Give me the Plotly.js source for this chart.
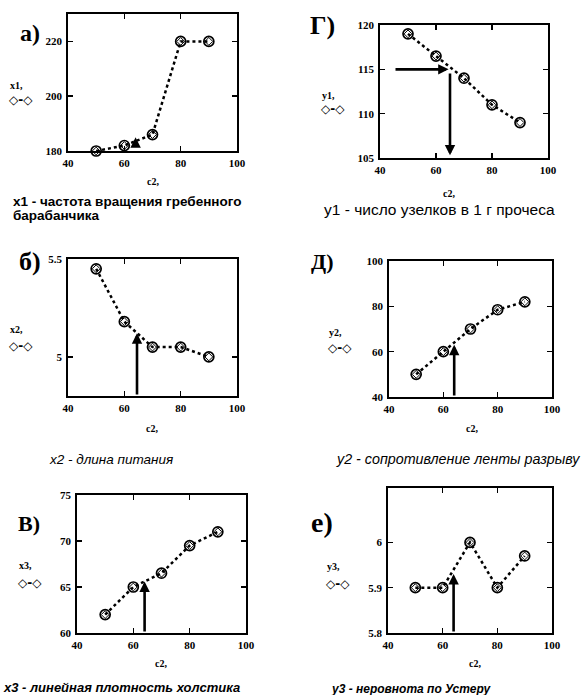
<!DOCTYPE html>
<html><head><meta charset="utf-8">
<script src="https://cdn.plot.ly/plotly-3.0.1.min.js"></script>
<style>html,body{margin:0;padding:0;background:#fff}#g{width:584px;height:695px}</style>
</head><body><div id="g"></div>
<script>
// ---- data ----
const c2 = [50, 60, 70, 80, 90];
const x1 = [180, 182, 186, 220, 220];
const x2 = [5.45, 5.18, 5.05, 5.05, 5.0];
const x3 = [62, 65, 66.5, 69.5, 71];
const y1 = [119, 116.5, 114, 111, 109];
const y2 = [50, 60, 70, 78.5, 82];
const y3 = [5.9, 5.9, 6.0, 5.9, 5.97];
const c2opt = 64.5;
// arrow tips (value of each response at c2opt)
const x1opt = 185, x2opt = 5.12, x3opt = 65.6;
const y1opt = 115, y2opt = 63, y3opt = 5.93;

const panelLetters = ['а)', 'б)', 'В)', 'Г)', 'Д)', 'е)'];
const yNames = ['x1,', 'x2,', 'x3,', 'y1,', 'y2,', 'y3,'];
const captions = [
  'x1 - частота вращения гребенного',
  'барабанчика',
  'x2 - длина питания',
  'x3 - линейная плотность холстика',
  'y1 - число узелков в 1 г прочеса',
  'y2 - сопротивление ленты разрыву',
  'y3 - неровнота по Устеру'
];

const W = 584, H = 695;
const px = v => v / W, py = v => 1 - v / H;

// panel frames in pixels: [left, right, top, bottom]
const frames = [
  [68, 237, 14, 151],      // а
  [68, 237, 259, 396],     // б
  [77, 246, 495, 633],     // в
  [380, 548, 25, 158],     // г
  [389, 552, 261, 397],    // д
  [388, 552, 488, 633]     // е
];
const ys = [x1, x2, x3, y1, y2, y3];
const yranges = [[180, 230], [4.8, 5.5], [60, 75], [105, 120], [40, 100], [5.8, 6.12]];
const ytv = [[180, 200, 220], [5, 5.5], [60, 65, 70, 75], [105, 110, 115, 120], [40, 60, 80, 100], [5.8, 5.9, 6]];
const ytt = [['180','200','220'], ['5','5.5'], ['60','65','70','75'], ['105','110','115','120'], ['40','60','80','100'], ['5.8','5.9','6']];

const tickFont = {family: 'Liberation Serif', size: 11, color: '#000', weight: 'bold'};
const traces = [];
const layout = {
  width: W, height: H, margin: {l: 0, r: 0, t: 0, b: 0},
  paper_bgcolor: '#fff', plot_bgcolor: '#fff', showlegend: false,
  annotations: [], shapes: []
};

for (let i = 0; i < 6; i++) {
  const f = frames[i];
  const xa = i === 0 ? 'xaxis' : 'xaxis' + (i + 1);
  const ya = i === 0 ? 'yaxis' : 'yaxis' + (i + 1);
  const xr = i === 0 ? 'x' : 'x' + (i + 1);
  const yr = i === 0 ? 'y' : 'y' + (i + 1);
  layout[xa] = {
    domain: [px(f[0]), px(f[1])], anchor: yr, range: [40, 100],
    tickvals: [40, 60, 80, 100], ticktext: ['40','60','80','100'],
    showgrid: false, zeroline: false, showline: true, mirror: 'ticks',
    linecolor: '#000', linewidth: 1.8, ticks: 'inside', ticklen: 5, tickwidth: 1.5,
    tickcolor: '#000', tickfont: tickFont, ticklabelstandoff: 1
  };
  layout[ya] = {
    domain: [py(f[3]), py(f[2])], anchor: xr, range: yranges[i],
    tickvals: ytv[i], ticktext: ytt[i],
    showgrid: false, zeroline: false, showline: true, mirror: 'ticks',
    linecolor: '#000', linewidth: 1.8, ticks: 'inside', ticklen: 5, tickwidth: 1.5,
    tickcolor: '#000', tickfont: tickFont, ticklabelstandoff: 2
  };
  traces.push({
    x: c2, y: ys[i], xaxis: xr, yaxis: yr, type: 'scatter', mode: 'lines+markers',
    line: {color: '#000', width: 2.5, dash: 'dot'},
    marker: {symbol: 'circle-open', size: 10, color: '#000', line: {width: 1.7, color: '#000'}},
    cliponaxis: false, hoverinfo: 'skip'
  });
  traces.push({
    x: c2, y: ys[i], xaxis: xr, yaxis: yr, type: 'scatter', mode: 'markers',
    marker: {symbol: 'diamond-open', size: 6, color: '#000', line: {width: 1, color: '#000'}},
    cliponaxis: false, hoverinfo: 'skip'
  });
}

// arrows
const arr = (xr, yr, x, y, ax, ay) => ({
  xref: xr, yref: yr, axref: xr, ayref: yr, x: x, y: y, ax: ax, ay: ay,
  showarrow: true, arrowhead: 2, arrowsize: 0.8, arrowwidth: 2.6, arrowcolor: '#000', text: ''
});
layout.annotations.push(arr('x', 'y', c2opt - 0.5, x1opt, c2opt - 0.5, 181));
layout.annotations.push(arr('x2', 'y2', c2opt, x2opt, c2opt, 4.8));
layout.annotations.push(arr('x3', 'y3', c2opt - 0.5, x3opt, c2opt - 0.5, 60));
layout.annotations.push(arr('x4', 'y4', c2opt, y1opt, 45, y1opt));
layout.annotations.push(arr('x4', 'y4', c2opt + 0.5, 105.3, c2opt + 0.5, y1opt - 0.3));
layout.annotations.push(arr('x5', 'y5', c2opt - 0.5, y2opt, c2opt - 0.5, 40));
layout.annotations.push(arr('x6', 'y6', c2opt - 0.5, y3opt, c2opt - 0.5, 5.8));

function txt(t, x, y, font, xanchor) {
  layout.annotations.push({
    xref: 'paper', yref: 'paper', x: px(x), y: py(y), text: t, showarrow: false,
    xanchor: xanchor || 'center', yanchor: 'middle', font: font, align: 'left'
  });
}
const letterPos = [[30, 33, 24], [30, 262, 26], [29, 523, 22], [322, 25, 26], [322, 262, 22], [322, 522, 28]];
for (let i = 0; i < 6; i++) txt(panelLetters[i], letterPos[i][0], letterPos[i][1],
  {family: 'Liberation Serif', size: letterPos[i][2], color: '#000', weight: 'bold'});

const smallFont = {family: 'Liberation Serif', size: 10, color: '#000', weight: 'bold'};
const symFont = {family: 'DejaVu Sans', size: 12, color: '#000', weight: 'bold'};
const yLabPos = [[8, 85, 7, 100], [8, 330, 7, 346], [17, 565, 16, 583], [320, 95, 319, 109], [327, 332, 326, 348], [325, 566, 324, 584]];
for (let i = 0; i < 6; i++) {
  txt(yNames[i], yLabPos[i][0], yLabPos[i][1], smallFont, 'left');
  txt('◇-◇', yLabPos[i][2], yLabPos[i][3], symFont, 'left');
}
const xLabPos = [[153, 182], [152, 428], [161, 663], [449, 193], [472, 428], [475, 663]];
for (let i = 0; i < 6; i++) txt('c2,', xLabPos[i][0], xLabPos[i][1], smallFont);

txt(captions[0], 11, 201, {family: 'Liberation Sans', size: 13.5, color: '#000', weight: 'bold'}, 'left');
txt(captions[1], 11, 215, {family: 'Liberation Sans', size: 13.5, color: '#000', weight: 'bold'}, 'left');
txt(captions[2], 47, 459, {family: 'Liberation Sans', size: 13.5, color: '#000', style: 'italic'}, 'left');
txt(captions[3], 1, 687, {family: 'Liberation Sans', size: 13, color: '#000', weight: 'bold', style: 'italic'}, 'left');
txt(captions[4], 322, 209, {family: 'Liberation Sans', size: 15.5, color: '#000'}, 'left');
txt(captions[5], 334, 459, {family: 'Liberation Sans', size: 14.3, color: '#000', style: 'italic'}, 'left');
txt(captions[6], 329, 689, {family: 'Liberation Sans', size: 12, color: '#000', weight: 'bold', style: 'italic'}, 'left');

Plotly.newPlot('g', traces, layout, {staticPlot: true});
</script></body></html>
